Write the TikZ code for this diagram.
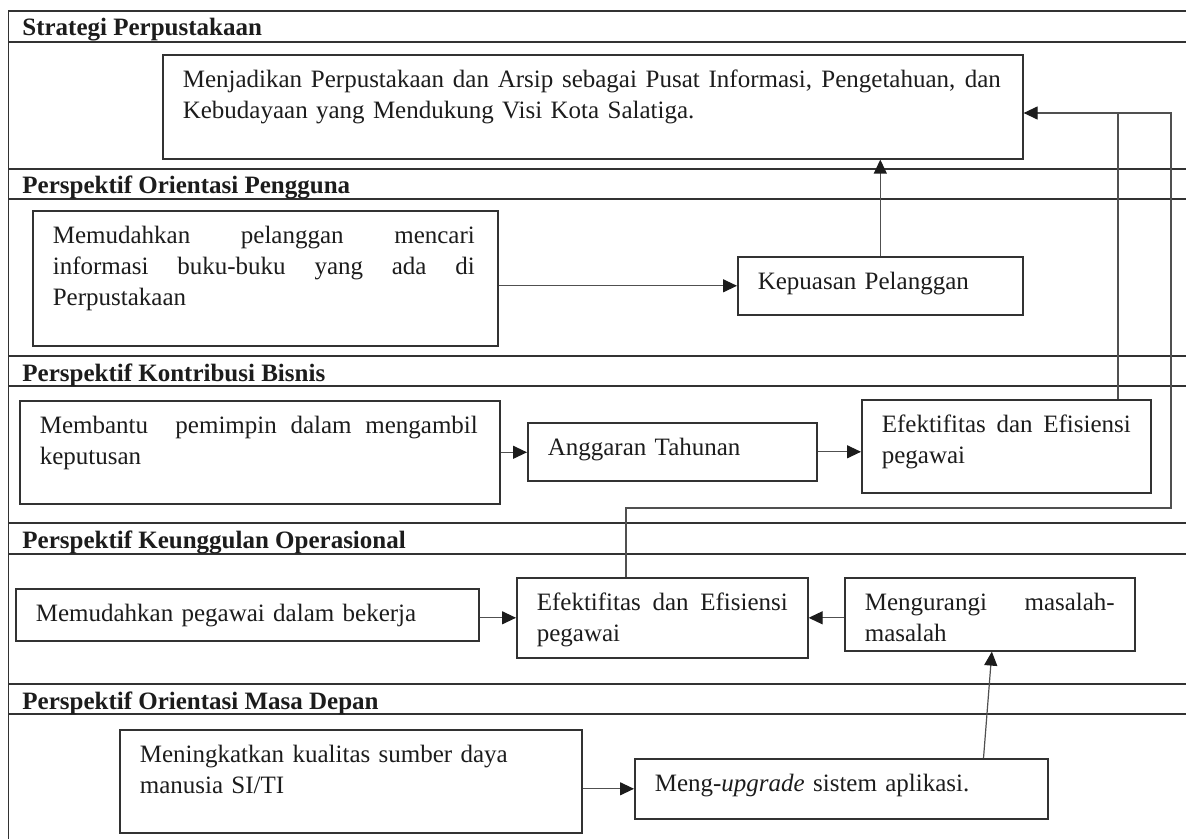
\documentclass[tikz,border=0pt]{standalone}
\usepackage{fontspec}
\setmainfont{Liberation Serif}
\usetikzlibrary{positioning,arrows.meta,calc}
\definecolor{tinta}{RGB}{28,28,28}
\definecolor{gelap}{RGB}{50,50,50}
\definecolor{abu}{RGB}{80,80,80}
\tikzset{
  kotak/.style={draw=gelap, line width=0.8pt, anchor=north west, align=left,
                inner xsep=10pt, inner ysep=0pt, text height=16.5pt, text=tinta,
                font=\fontsize{12.5pt}{15.5pt}\selectfont},
  judul/.style={anchor=base west, inner sep=0pt, text=tinta,
                font=\fontsize{12.5pt}{15.5pt}\selectfont\bfseries},
  bingkai/.style={draw=gelap, line width=0.8pt},
  panah/.style={-{Triangle[length=7pt,width=6.5pt,color=tinta]}, line width=0.6pt, draw=abu},
  garis/.style={line width=0.6pt, draw=abu},
}
% baris rata kiri-kanan dengan lebar tetap
\newcommand{\rata}[2]{\leavevmode\hbox to #1{\spaceskip=0.25em plus 1fil\relax #2}}

\begin{document}
\begin{tikzpicture}[x=0.5pt, y=-0.5pt]
  \useasboundingbox (0,0) rectangle (1186,839);

  % bingkai tabel
  \draw[bingkai] (8.5,839) -- (8.5,11) -- (1186,11);
  \foreach \y in {42,169,199,356,386,523,554,684,714}
    \draw[bingkai] (8.5,\y) -- (1186,\y);

  % judul perspektif
  \node[judul] (jstrategi)    at (22,36)  {Strategi Perpustakaan};
  \node[judul] (jpengguna)    at (22,194) {Perspektif Orientasi Pengguna};
  \node[judul] (jbisnis)      at (22,381) {Perspektif Kontribusi Bisnis};
  \node[judul] (joperasional) at (22,548) {Perspektif Keunggulan Operasional};
  \node[judul] (jmasadepan)   at (22,709) {Perspektif Orientasi Masa Depan};

  % kotak-kotak sasaran
  \node[kotak, text width=410pt, text depth=35.5pt] (visi) at (162,54)
    {\rata{409pt}{Menjadikan Perpustakaan dan Arsip sebagai Pusat Informasi, Pengetahuan, dan}\\
     Kebudayaan yang Mendukung Visi Kota Salatiga.};
  \node[kotak, text width=212.5pt, text depth=51pt] (mudah1) at (32,210)
    {\rata{211pt}{Memudahkan pelanggan mencari}\\
     \rata{211pt}{informasi buku-buku yang ada di}\\
     Perpustakaan};
  \node[kotak, text width=122.5pt, text depth=12.5pt] (puas) at (737,256)
    {Kepuasan Pelanggan};
  \node[kotak, text width=220pt, text depth=35pt] (bantu) at (19,400)
    {\rata{219pt}{Membantu\ \ pemimpin dalam mengambil}\\
     keputusan};
  \node[kotak, text width=124.5pt, text depth=12.5pt] (anggaran) at (527,422)
    {Anggaran Tahunan};
  \node[kotak, text width=124.5pt, text depth=30pt] (efek1) at (861,399)
    {\rata{124.5pt}{Efektifitas dan Efisiensi}\\
     pegawai};
  \node[kotak, text width=211.5pt, text depth=9.5pt] (mudah2) at (15,588)
    {Memudahkan pegawai dalam bekerja};
  \node[kotak, text width=125.5pt, text depth=23.5pt] (efek2) at (516,577)
    {\rata{125.5pt}{Efektifitas dan Efisiensi}\\
     pegawai};
  \node[kotak, text width=125pt, text depth=20pt] (kurang) at (844,577)
    {\rata{125pt}{Mengurangi masalah-}\\
     masalah};
  \node[kotak, text width=211pt, text depth=35pt] (tingkat) at (119,729)
    {Meningkatkan kualitas sumber daya\\
     manusia SI/TI};
  \node[kotak, text width=186.5pt, text depth=13.5pt] (upgrade) at (634,758)
    {Meng-\textit{upgrade} sistem aplikasi.};

  % titik belok jalur balik
  \coordinate (belok1) at (1118,113);
  \coordinate (belok2) at (1171,508);
  \coordinate (belok3) at (626,508);

  % panah
  \draw[panah] (mudah1.east |- puas.west) -- (puas.west);
  \draw[panah] (puas.north) -- (puas.north |- visi.south);
  \draw[garis] (belok1 |- efek1.north) -- (belok1);
  \draw[panah] (belok3 |- efek2.north) -- (belok3) -- (belok2) |- (visi.east |- belok1);
  \draw[panah] (bantu.east) -- (bantu.east -| anggaran.west);
  \draw[panah] (anggaran.east) -- (anggaran.east -| efek1.west);
  \draw[panah] (efek2.west -| mudah2.east) -- (efek2.west);
  \draw[panah] (kurang.west |- efek2.east) -- (efek2.east);
  \draw[panah] (tingkat.east |- upgrade.west) -- (upgrade.west);
  \draw[panah] ($(upgrade.north west)!0.843!(upgrade.north east)$)
    -- ($(kurang.south west)!0.507!(kurang.south east)$);
\end{tikzpicture}
\end{document}
